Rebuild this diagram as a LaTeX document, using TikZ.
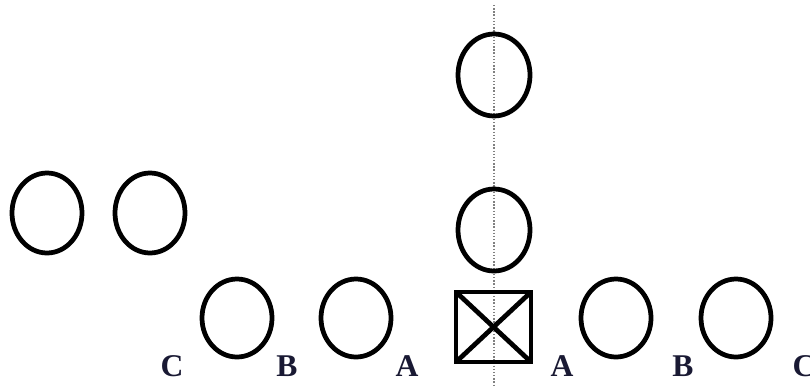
\documentclass[tikz,border=0pt]{standalone}
\usepackage{fontspec}
\setmainfont{Liberation Serif}
\definecolor{labelnavy}{rgb}{0.1,0.1,0.2}

\begin{document}
\begin{tikzpicture}[player/.style={line width=2.7pt},
  side/.style={font=\fontsize{18}{20}\selectfont\bfseries, text=labelnavy}]
 \useasboundingbox (0,0) rectangle (16.2,7.7);
 %\draw[step=.5cm, gray, very thin] (0,0) grid (16.2,7.7);
 \draw[gray, densely dotted, thick] (9.88,7.6) coordinate (top) -- (9.88,0) coordinate (bottom);

 \draw[player] (9.88,6.2) ellipse (0.72cm and 0.82cm);
 \draw[player] (9.88,3.1) ellipse (0.72cm and 0.82cm);

 \draw[player] (0.94,3.44) ellipse (0.7cm and 0.8cm);
 \draw[player] (3.0,3.44) ellipse (0.7cm and 0.8cm);

 \draw[player] (4.74,1.34) ellipse (0.7cm and 0.78cm);
 \draw[player] (7.12,1.34) ellipse (0.7cm and 0.78cm);
 \draw[player] (12.32,1.34) ellipse (0.7cm and 0.78cm);
 \draw[player] (14.72,1.34) ellipse (0.7cm and 0.78cm);

 % center
 \draw[player] (9.12,0.46) rectangle (10.62,1.86);
 \draw[player] (9.12,0.46) -- (10.62,1.86);
 \draw[player] (9.12,1.86) -- (10.62,0.46);

 \node[side] (lc) at (3.44,0.38) {C};
 \node[side] (lb) at (5.74,0.38) {B};
 \node[side] (la) at (8.14,0.38) {A};
 \node[side] (ra) at (11.24,0.38) {A};
 \node[side] (rb) at (13.66,0.38) {B};
 \node[side] (rc) at (16.08,0.38) {C};
\end{tikzpicture}
\end{document}
